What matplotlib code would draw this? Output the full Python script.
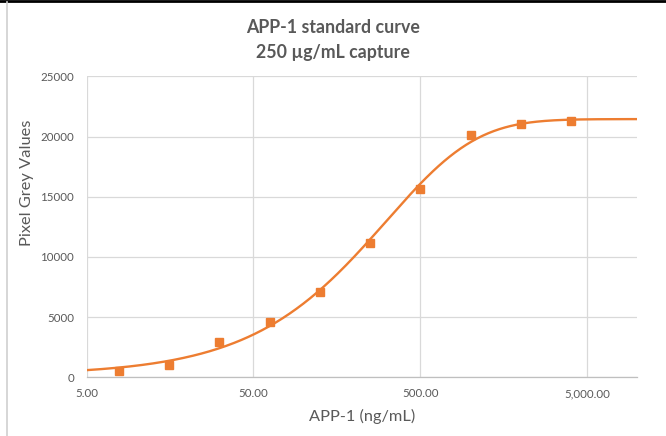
import numpy as np
import matplotlib
matplotlib.use("Agg")
import matplotlib.pyplot as plt
from matplotlib.ticker import FixedLocator, FuncFormatter, NullLocator
from matplotlib.lines import Line2D

plt.rcParams['font.family'] = ['Lato', 'DejaVu Sans']

# measured standards
conc = [7.8125, 15.625, 31.25, 62.5, 125, 250, 500, 1000, 2000, 4000]
grey = [524, 1022, 2960, 4622, 7066, 11139, 15677, 20141, 21080, 21305]

# fitted 5-parameter logistic trendline parameters
fit_bottom = 181.4
fit_top = 21457.8
fit_ec = 1878.78
fit_slope = 0.950
fit_asym = 5.499

x_ticks = [5, 50, 500, 5000]
x_tick_labels = ["5.00", "50.00", "500.00", "5,000.00"]
y_ticks = [0, 5000, 10000, 15000, 20000, 25000]

orange = "#ED7D31"
txt = "#595959"
gridc = "#D9D9D9"

fig = plt.figure(figsize=(6.66, 4.36), dpi=100)
ax = fig.add_axes([0.130, 0.1346, 0.827, 0.690])

xs = np.logspace(np.log10(5), 4, 400)
ys = fit_top + (fit_bottom - fit_top) / (1 + (xs / fit_ec) ** fit_slope) ** fit_asym
ax.plot(xs, ys, color=orange, lw=1.7, zorder=3, solid_capstyle="round")
ax.plot(conc, grey, "s", color=orange, ms=6, zorder=4)

ax.set_xscale("log")
ax.set_xlim(5, 10000)
ax.set_ylim(0, 25000)
ax.xaxis.set_major_locator(FixedLocator(x_ticks))
ax.xaxis.set_minor_locator(NullLocator())
ax.xaxis.set_major_formatter(FuncFormatter(lambda v, p: x_tick_labels[x_ticks.index(v)] if v in x_ticks else ""))
ax.yaxis.set_major_locator(FixedLocator(y_ticks))
ax.yaxis.set_major_formatter(FuncFormatter(lambda v, p: "%d" % v))

ax.grid(True, color=gridc, lw=0.9)
ax.set_axisbelow(True)
for s in ["top", "right", "left"]:
    ax.spines[s].set_visible(False)
ax.spines["bottom"].set_color("#BFBFBF")
ax.spines["bottom"].set_linewidth(0.9)
ax.tick_params(axis="both", length=0, colors=txt, labelsize=8.3)
ax.tick_params(axis="x", pad=8)
ax.tick_params(axis="y", pad=9)

ax.set_xlabel("APP-1 (ng/mL)", color=txt, fontsize=11.8, labelpad=7)
ax.set_ylabel("Pixel Grey Values", color=txt, fontsize=11.8)
ax.yaxis.set_label_coords(-0.096, 0.645)

fig.text(0.5, 0.937, "APP-1 standard curve", ha="center", va="center", color=txt, fontsize=12.8, fontweight="bold")
fig.text(0.5, 0.879, "250 µg/mL capture", ha="center", va="center", color=txt, fontsize=12.8, fontweight="bold")

# screenshot frame
fig.add_artist(Line2D([0, 1], [0.998, 0.998], transform=fig.transFigure, color="black", lw=2))
fig.add_artist(Line2D([7 / 666, 7 / 666], [0, 0.995], transform=fig.transFigure, color="#D0D0D0", lw=1.2))

fig.savefig("out.png", dpi=100)
